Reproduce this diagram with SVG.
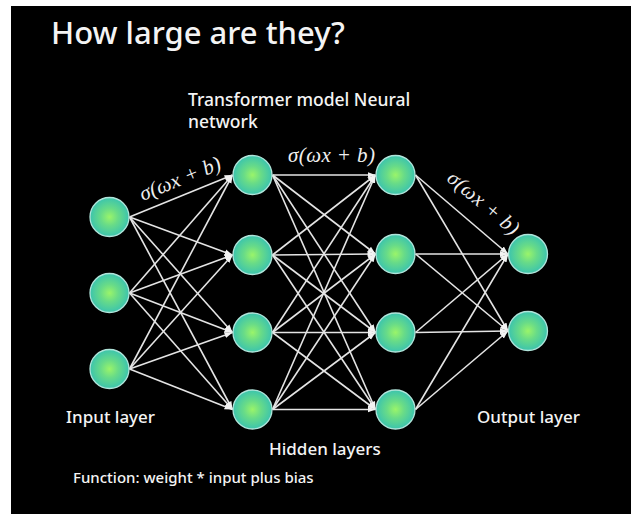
<svg xmlns="http://www.w3.org/2000/svg" width="631" height="514" viewBox="0 0 631 514">
<defs>
<radialGradient id="ng" cx="50%" cy="50%" r="50%">
<stop offset="0" stop-color="#9af46a"/>
<stop offset="0.45" stop-color="#68db88"/>
<stop offset="1" stop-color="#3cc4ad"/>
</radialGradient>
<marker id="ah" markerUnits="userSpaceOnUse" markerWidth="9" markerHeight="8" refX="8" refY="4" orient="auto">
<path d="M0,1 L8,4 L0,7 Z" fill="#f2f2f2"/>
</marker>
<style>
.n{fill:url(#ng);stroke:#b0e4da;stroke-width:1.3}
.c line{stroke:#e4e4e4;stroke-width:1.6;marker-end:url(#ah)}
.t{font-family:"Noto Sans","Open Sans","Liberation Sans",sans-serif;fill:#f4f4f4;font-weight:500}
.f{font-family:"Liberation Serif","DejaVu Serif",serif;font-style:italic;fill:#efefef;font-size:21px}
</style>
</defs>
<rect x="0" y="0" width="631" height="514" fill="#ffffff"/>
<rect x="11" y="6" width="620" height="508" fill="#000000"/>
<text class="t" x="51" y="44" font-size="31" font-weight="600">How large are they?</text>
<text class="t" x="188" y="106" font-size="17.5">Transformer model Neural</text>
<text class="t" x="188" y="128" font-size="17.5">network</text>
<g class="c" id="connectors">
<line x1="129.5" y1="217" x2="232.5" y2="175"/>
<line x1="129.5" y1="217" x2="232.5" y2="255"/>
<line x1="129.5" y1="217" x2="232.5" y2="332.5"/>
<line x1="129.5" y1="217" x2="232.5" y2="409.5"/>
<line x1="129.5" y1="293" x2="232.5" y2="175"/>
<line x1="129.5" y1="293" x2="232.5" y2="255"/>
<line x1="129.5" y1="293" x2="232.5" y2="332.5"/>
<line x1="129.5" y1="293" x2="232.5" y2="409.5"/>
<line x1="129.5" y1="369" x2="232.5" y2="175"/>
<line x1="129.5" y1="369" x2="232.5" y2="255"/>
<line x1="129.5" y1="369" x2="232.5" y2="332.5"/>
<line x1="129.5" y1="369" x2="232.5" y2="409.5"/>
<line x1="272.5" y1="175" x2="375.5" y2="175"/>
<line x1="272.5" y1="175" x2="375.5" y2="254"/>
<line x1="272.5" y1="175" x2="375.5" y2="332.5"/>
<line x1="272.5" y1="175" x2="375.5" y2="409.5"/>
<line x1="272.5" y1="255" x2="375.5" y2="175"/>
<line x1="272.5" y1="255" x2="375.5" y2="254"/>
<line x1="272.5" y1="255" x2="375.5" y2="332.5"/>
<line x1="272.5" y1="255" x2="375.5" y2="409.5"/>
<line x1="272.5" y1="332.5" x2="375.5" y2="175"/>
<line x1="272.5" y1="332.5" x2="375.5" y2="254"/>
<line x1="272.5" y1="332.5" x2="375.5" y2="332.5"/>
<line x1="272.5" y1="332.5" x2="375.5" y2="409.5"/>
<line x1="272.5" y1="409.5" x2="375.5" y2="175"/>
<line x1="272.5" y1="409.5" x2="375.5" y2="254"/>
<line x1="272.5" y1="409.5" x2="375.5" y2="332.5"/>
<line x1="272.5" y1="409.5" x2="375.5" y2="409.5"/>
<line x1="415.5" y1="175" x2="508" y2="254"/>
<line x1="415.5" y1="175" x2="508" y2="331"/>
<line x1="415.5" y1="254" x2="508" y2="254"/>
<line x1="415.5" y1="254" x2="508" y2="331"/>
<line x1="415.5" y1="332.5" x2="508" y2="254"/>
<line x1="415.5" y1="332.5" x2="508" y2="331"/>
<line x1="415.5" y1="409.5" x2="508" y2="254"/>
<line x1="415.5" y1="409.5" x2="508" y2="331"/>
</g>
<g id="in1"><circle class="n" cx="109.5" cy="217" r="19.5"/></g>
<g id="in2"><circle class="n" cx="109.5" cy="293" r="19.5"/></g>
<g id="in3"><circle class="n" cx="109.5" cy="369" r="19.5"/></g>
<g id="h1a"><circle class="n" cx="252.5" cy="175" r="19.5"/></g>
<g id="h1b"><circle class="n" cx="252.5" cy="255" r="19.5"/></g>
<g id="h1c"><circle class="n" cx="252.5" cy="332.5" r="19.5"/></g>
<g id="h1d"><circle class="n" cx="252.5" cy="409.5" r="19.5"/></g>
<g id="h2a"><circle class="n" cx="395.5" cy="175" r="19.5"/></g>
<g id="h2b"><circle class="n" cx="395.5" cy="254" r="19.5"/></g>
<g id="h2c"><circle class="n" cx="395.5" cy="332.5" r="19.5"/></g>
<g id="h2d"><circle class="n" cx="395.5" cy="409.5" r="19.5"/></g>
<g id="out1"><circle class="n" cx="528" cy="254" r="19.5"/></g>
<g id="out2"><circle class="n" cx="528" cy="331" r="19.5"/></g>
<text class="f" text-anchor="middle" transform="translate(182.5,185) rotate(-22)" textLength="86" lengthAdjust="spacing">σ(ωx + b)</text>
<text class="f" x="331.5" y="162" text-anchor="middle" textLength="87" lengthAdjust="spacing">σ(ωx + b)</text>
<text class="f" text-anchor="middle" transform="translate(479,208) rotate(40)" textLength="87" lengthAdjust="spacing">σ(ωx + b)</text>
<text class="t" x="66" y="423" font-size="17">Input layer</text>
<text class="t" x="477" y="423" font-size="17">Output layer</text>
<text class="t" x="269" y="455" font-size="17">Hidden layers</text>
<text class="t" x="73" y="483" font-size="15">Function: weight * input plus bias</text>
</svg>
